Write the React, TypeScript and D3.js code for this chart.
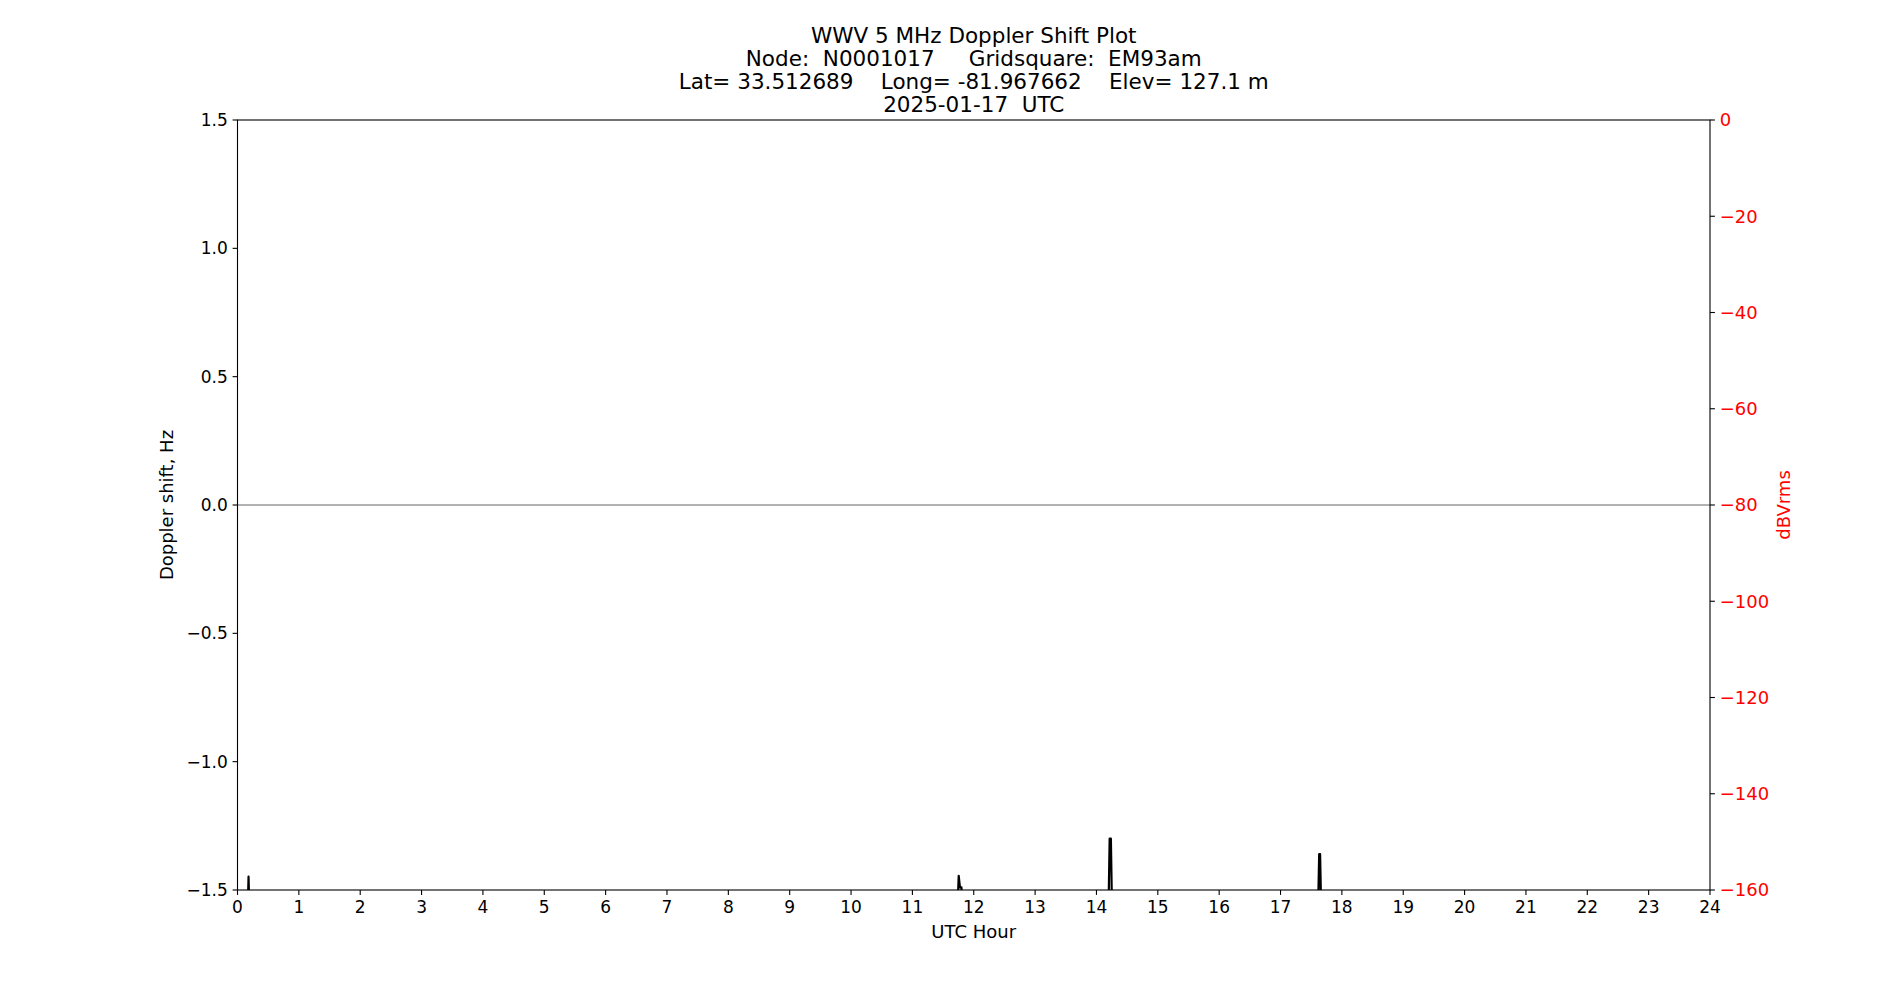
import * as d3 from "d3";

const W = 1900;
const H = 1000;
const mg = { top: 120, right: 190, bottom: 110, left: 237.5 };

const titleLines = [
  "WWV 5 MHz Doppler Shift Plot",
  "Node:  N0001017     Gridsquare:  EM93am",
  "Lat= 33.512689    Long= -81.967662    Elev= 127.1 m",
  "2025-01-17  UTC",
];

const hourTicks = d3.range(0, 25, 1);
const dopplerTicks = [-1.5, -1.0, -0.5, 0.0, 0.5, 1.0, 1.5];
const dbTicks = [0, -20, -40, -60, -80, -100, -120, -140, -160];

// Doppler trace (Hz); values below -1.5 fall outside the axis and are clipped
const hours = [
  0, 0.165, 0.18, 0.195, 11.73, 11.755, 11.775, 11.79, 11.8, 11.815,
  14.195, 14.215, 14.235, 14.255, 17.61, 17.63, 17.645, 17.665, 24,
];
const doppler = [
  -1.6, -1.6, -1.448, -1.6, -1.6, -1.445, -1.49, -1.49, -1.49, -1.6,
  -1.6, -1.30, -1.30, -1.6, -1.6, -1.36, -1.36, -1.6, -1.6,
];

const FONT = "'DejaVu Sans', sans-serif";
const FS = 17;
const FS_RIGHT = 18;
const FS_LABEL = 18;
const FS_TITLE = 21.5;

const fmtMinus = (s: string) => s.replace("-", "\u2212");

export default function App() {
  const x = d3.scaleLinear([0, 24], [mg.left, W - mg.right]);
  const y = d3.scaleLinear([-1.5, 1.5], [H - mg.bottom, mg.top]);
  const yR = d3.scaleLinear([-160, 0], [H - mg.bottom, mg.top]);

  const line = d3
    .line<number>()
    .x((_, i) => x(hours[i]))
    .y((d) => y(d));

  const x0 = mg.left;
  const x1 = W - mg.right;
  const y0 = mg.top;
  const y1 = H - mg.bottom;
  const midY = (y0 + y1) / 2;

  return (
    <svg
      width={W}
      height={H}
      viewBox={`0 0 ${W} ${H}`}
      style={{ position: "absolute", left: 0, top: 0, background: "#fff" }}
      fontFamily={FONT}
    >
      <defs>
        <clipPath id="plotClip">
          <rect x={x0} y={y0} width={x1 - x0} height={y1 - y0} />
        </clipPath>
      </defs>

      {titleLines.map((t, i) => (
        <text
          key={i}
          x={(x0 + x1) / 2}
          y={42.5 + i * 23.3}
          textAnchor="middle"
          fontSize={FS_TITLE}
          fill="#000"
          xmlSpace="preserve"
          style={{ whiteSpace: "pre" }}
        >
          {t}
        </text>
      ))}

      {/* zero reference line */}
      <line x1={x0} x2={x1} y1={y(0)} y2={y(0)} stroke="#999" strokeWidth={1.4} />

      <g clipPath="url(#plotClip)">
        <path d={line(doppler) ?? ""} fill="none" stroke="#000" strokeWidth={2.2} strokeLinejoin="round" />
      </g>

      {/* spines */}
      <rect x={x0} y={y0} width={x1 - x0} height={y1 - y0} fill="none" stroke="#000" strokeWidth={1.1} />

      {/* bottom axis */}
      {hourTicks.map((h) => (
        <g key={h}>
          <line x1={x(h)} x2={x(h)} y1={y1} y2={y1 + 4.9} stroke="#000" strokeWidth={1.1} />
          <text x={x(h)} y={912.5} textAnchor="middle" fontSize={FS} fill="#000">
            {h}
          </text>
        </g>
      ))}
      <text x={(x0 + x1) / 2} y={937.5} textAnchor="middle" fontSize={FS_LABEL} fill="#000">
        UTC Hour
      </text>

      {/* left axis */}
      {dopplerTicks.map((v) => (
        <g key={v}>
          <line x1={x0 - 4.9} x2={x0} y1={y(v)} y2={y(v)} stroke="#000" strokeWidth={1.1} />
          <text x={x0 - 9.7} y={y(v) + 6} textAnchor="end" fontSize={FS} fill="#000">
            {fmtMinus(v.toFixed(1))}
          </text>
        </g>
      ))}
      <text
        transform={`translate(173,${midY}) rotate(-90)`}
        textAnchor="middle"
        fontSize={FS_LABEL}
        fill="#000"
      >
        Doppler shift, Hz
      </text>

      {/* right axis */}
      {dbTicks.map((v) => (
        <g key={v}>
          <line x1={x1} x2={x1 + 4.9} y1={yR(v)} y2={yR(v)} stroke="#000" strokeWidth={1.1} />
          <text x={x1 + 9.7} y={yR(v) + 6.4} textAnchor="start" fontSize={FS_RIGHT} fill="#ff0000">
            {fmtMinus(String(v))}
          </text>
        </g>
      ))}
      <text
        transform={`translate(1790,${midY}) rotate(-90)`}
        textAnchor="middle"
        fontSize={FS_LABEL}
        fill="#ff0000"
      >
        dBVrms
      </text>
    </svg>
  );
}
